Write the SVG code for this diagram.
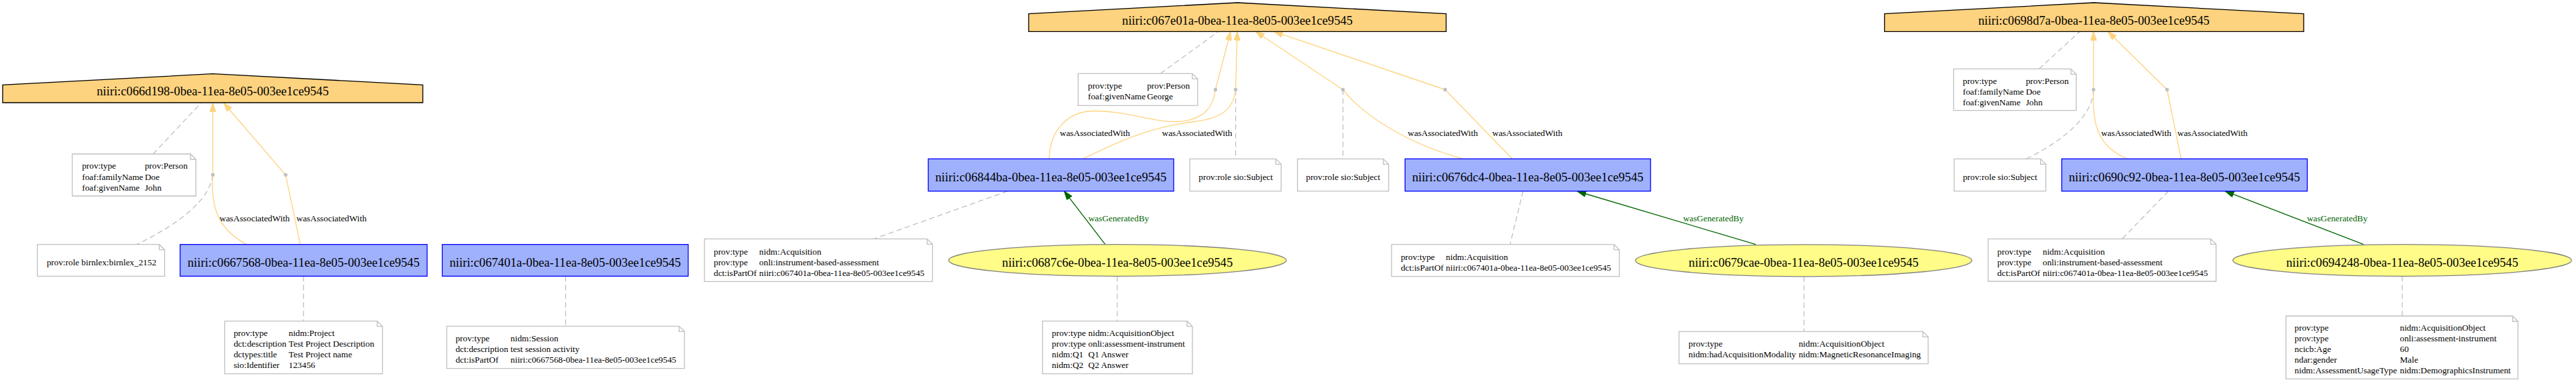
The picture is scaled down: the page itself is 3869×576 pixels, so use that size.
<svg xmlns="http://www.w3.org/2000/svg" width="3869" height="576" viewBox="0 0 3869 576">
<style>
.agent{fill:#fed37f;stroke:#000;stroke-width:1.33}
.act{fill:#9fb1fc;stroke:#0000ff;stroke-width:1.33}
.ent{fill:#fffc87;stroke:#808080;stroke-width:1.33}
.note{fill:#fff;stroke:#c0c0c0;stroke-width:1.33}
.fold{fill:none;stroke:#c0c0c0;stroke-width:1.33}
.nt{font-family:"Liberation Serif","Times New Roman",serif;font-size:18.67px;fill:#000;text-anchor:middle}
.at{font-family:"Liberation Serif","Times New Roman",serif;font-size:13.33px;fill:#000}
.mid{text-anchor:middle}
.gl{fill:#006400;text-anchor:middle}
.assoc{fill:none;stroke:#fed37f;stroke-width:1.33}
.gen{fill:none;stroke:#006400;stroke-width:1.33}
.dash{fill:none;stroke:#c0c0c0;stroke-width:1.33;stroke-dasharray:8,5}
.pt{fill:#c0c0c0}
</style>
<defs>
<marker id="ao" markerUnits="userSpaceOnUse" markerWidth="14" markerHeight="10" refX="13.3" refY="4.67" orient="auto"><path d="M0,0 L13.3,4.67 L0,9.33 Z" fill="#fed37f" stroke="#fed37f"/></marker>
<marker id="ag" markerUnits="userSpaceOnUse" markerWidth="14" markerHeight="10" refX="13.3" refY="4.67" orient="auto"><path d="M0,0 L13.3,4.67 L0,9.33 Z" fill="#006400" stroke="#006400"/></marker>
</defs>
<rect width="3869" height="576" fill="#fff"/>
<g id="connectors">
<line class="dash" x1="230" y1="231" x2="301.7" y2="154.7"/>
<path class="dash" d="M319.6,262.3 C315,300 270,335 205.4,366.7"/>
<line class="dash" x1="455.8" y1="414.3" x2="455.8" y2="481.7"/>
<line class="dash" x1="849.5" y1="414.3" x2="849.5" y2="489.3"/>
<line class="dash" x1="1743" y1="110.3" x2="1829" y2="48"/>
<line class="dash" x1="1855.8" y1="134.5" x2="1855.8" y2="238.3"/>
<line class="dash" x1="2017" y1="134.5" x2="2017" y2="238.3"/>
<line class="dash" x1="1513.4" y1="286.7" x2="1312.5" y2="358.3"/>
<line class="dash" x1="1678" y1="414.3" x2="1678" y2="481.7"/>
<line class="dash" x1="2287.5" y1="286.7" x2="2268" y2="366.7"/>
<line class="dash" x1="2709.5" y1="414.8" x2="2709.5" y2="497.3"/>
<line class="dash" x1="3062.5" y1="103.3" x2="3123.8" y2="47.3"/>
<path class="dash" d="M3144.3,134.5 C3143,175 3100,210 3043.4,238.3"/>
<line class="dash" x1="3256.8" y1="286.7" x2="3187.3" y2="358.3"/>
<line class="dash" x1="3608" y1="414.3" x2="3608" y2="474"/>

<path class="assoc" d="M319.6,262.3 L319.6,154.5" marker-end="url(#ao)"/>
<path class="assoc" d="M429,262.3 L336,154.5" marker-end="url(#ao)"/>
<path class="assoc" d="M370.5,366.7 C330,345 316,315 319.6,262.3"/>
<path class="assoc" d="M451,366.7 L429,262.3"/>
<text class="at mid" x="382.5" y="332">wasAssociatedWith</text>
<text class="at mid" x="498" y="332">wasAssociatedWith</text>

<path class="assoc" d="M1825.5,134.5 L1848.3,47.3" marker-end="url(#ao)"/>
<path class="assoc" d="M1855.8,134.5 L1858.3,47.3" marker-end="url(#ao)"/>
<path class="assoc" d="M2017,134.5 L1886,47.3" marker-end="url(#ao)"/>
<path class="assoc" d="M2170.5,134.5 L1913.3,47.3" marker-end="url(#ao)"/>
<path class="assoc" d="M1576,238.3 C1576,200 1600,166 1645,166.5 C1700,167 1730,185 1775,182 C1810,178 1822,160 1825.5,134.5"/>
<path class="assoc" d="M1626.7,238.3 C1680,212 1730,190 1790,183 C1835,178 1852,165 1855.8,134.5"/>
<text class="at mid" x="1644.5" y="204">wasAssociatedWith</text>
<text class="at mid" x="1798" y="204">wasAssociatedWith</text>
<path class="assoc" d="M2198.2,238.3 C2110,215 2045,170 2017,134.5"/>
<path class="assoc" d="M2271.4,238.3 L2170.5,134.5"/>
<text class="at mid" x="2167" y="204">wasAssociatedWith</text>
<text class="at mid" x="2294" y="204">wasAssociatedWith</text>

<path class="assoc" d="M3144.3,134.5 L3144.3,47.3" marker-end="url(#ao)"/>
<path class="assoc" d="M3254.8,134.5 L3166,47.3" marker-end="url(#ao)"/>
<path class="assoc" d="M3195.4,238.3 C3150,220 3142,185 3144.3,134.5"/>
<path class="assoc" d="M3275.9,238.3 L3254.8,134.5"/>
<text class="at mid" x="3208.4" y="204">wasAssociatedWith</text>
<text class="at mid" x="3323" y="204">wasAssociatedWith</text>

<path class="gen" d="M1660,366.7 L1598.3,286.7" marker-end="url(#ag)"/>
<path class="gen" d="M2637.1,366.7 L2369,287" marker-end="url(#ag)"/>
<path class="gen" d="M3550,366.7 L3342,286.7" marker-end="url(#ag)"/>
<text class="at gl" x="1680.2" y="332">wasGeneratedBy</text>
<text class="at gl" x="2573.4" y="332">wasGeneratedBy</text>
<text class="at gl" x="3510.4" y="332">wasGeneratedBy</text>

<circle class="pt" cx="319.6" cy="262.3" r="2.7"/>
<circle class="pt" cx="429" cy="262.3" r="2.7"/>
<circle class="pt" cx="1825.5" cy="134.5" r="2.7"/>
<circle class="pt" cx="1855.8" cy="134.5" r="2.7"/>
<circle class="pt" cx="2017" cy="134.5" r="2.7"/>
<circle class="pt" cx="2170.5" cy="134.5" r="2.7"/>
<circle class="pt" cx="3144.3" cy="134.5" r="2.7"/>
<circle class="pt" cx="3254.8" cy="134.5" r="2.7"/>
</g>

<g id="agent-c066d198">
<polygon class="agent" points="635,154 635,127.3 319.5,110.7 4,127.3 4,154"/>
<text class="nt" x="319.5" y="143.3">niiri:c066d198-0bea-11ea-8e05-003ee1ce9545</text>
</g>
<g id="agent-c067e01a">
<polygon class="agent" points="2172,47.3 2172,20.7 1858.5,4 1545,20.7 1545,47.3"/>
<text class="nt" x="1858.5" y="36.7">niiri:c067e01a-0bea-11ea-8e05-003ee1ce9545</text>
</g>
<g id="agent-c0698d7a">
<polygon class="agent" points="3460,47.3 3460,20.7 3145,4 2830.5,20.7 2830.5,47.3"/>
<text class="nt" x="3145" y="36.7">niiri:c0698d7a-0bea-11ea-8e05-003ee1ce9545</text>
</g>

<g id="act-c0667568">
<rect class="act" x="270.5" y="366.7" width="371" height="47.6"/>
<text class="nt" x="456" y="400">niiri:c0667568-0bea-11ea-8e05-003ee1ce9545</text>
</g>
<g id="act-c067401a">
<rect class="act" x="664.3" y="366.7" width="369.3" height="47.6"/>
<text class="nt" x="849" y="400">niiri:c067401a-0bea-11ea-8e05-003ee1ce9545</text>
</g>
<g id="act-c06844ba">
<rect class="act" x="1394.2" y="238.3" width="368.6" height="48.4"/>
<text class="nt" x="1578.5" y="271.7">niiri:c06844ba-0bea-11ea-8e05-003ee1ce9545</text>
</g>
<g id="act-c0676dc4">
<rect class="act" x="2110.3" y="238.3" width="368.7" height="48.4"/>
<text class="nt" x="2294.6" y="271.7">niiri:c0676dc4-0bea-11ea-8e05-003ee1ce9545</text>
</g>
<g id="act-c0690c92">
<rect class="act" x="3096.6" y="238.3" width="368.8" height="48.4"/>
<text class="nt" x="3281" y="271.7">niiri:c0690c92-0bea-11ea-8e05-003ee1ce9545</text>
</g>

<g id="ent-c0687c6e">
<ellipse class="ent" cx="1678.3" cy="390.5" rx="253.5" ry="23.8"/>
<text class="nt" x="1678.3" y="399.5">niiri:c0687c6e-0bea-11ea-8e05-003ee1ce9545</text>
</g>
<g id="ent-c0679cae">
<ellipse class="ent" cx="2709" cy="390.8" rx="252.6" ry="24"/>
<text class="nt" x="2709" y="399.5">niiri:c0679cae-0bea-11ea-8e05-003ee1ce9545</text>
</g>
<g id="ent-c0694248">
<ellipse class="ent" cx="3608" cy="390.5" rx="254.3" ry="23.8"/>
<text class="nt" x="3608" y="399.5">niiri:c0694248-0bea-11ea-8e05-003ee1ce9545</text>
</g>

<g id="note-agentL">
<path class="note" d="M108.5,231 L286.2,231 L294.2,239 L294.2,294 L108.5,294 Z"/>
<path class="fold" d="M286.2,231 L286.2,239 L294.2,239"/>
<text class="at" x="123.2" y="253">prov:type</text><text class="at" x="217.4" y="253">prov:Person</text>
<text class="at" x="123.2" y="269.5">foaf:familyName</text><text class="at" x="217.4" y="269.5">Doe</text>
<text class="at" x="123.2" y="286">foaf:givenName</text><text class="at" x="217.4" y="286">John</text>
</g>
<g id="note-roleL">
<path class="note" d="M56.2,366.7 L239.3,366.7 L247.3,374.7 L247.3,414.3 L56.2,414.3 Z"/>
<path class="fold" d="M239.3,366.7 L239.3,374.7 L247.3,374.7"/>
<text class="at mid" x="152.5" y="397.5">prov:role birnlex:birnlex_2152</text>
</g>
<g id="note-project">
<path class="note" d="M337.5,481.7 L566.5,481.7 L574.5,489.7 L574.5,560.7 L337.5,560.7 Z"/>
<path class="fold" d="M566.5,481.7 L566.5,489.7 L574.5,489.7"/>
<text class="at" x="350.9" y="504">prov:type</text><text class="at" x="433.5" y="504">nidm:Project</text>
<text class="at" x="350.9" y="520">dct:description</text><text class="at" x="433.5" y="520">Test Project Description</text>
<text class="at" x="350.9" y="536">dctypes:title</text><text class="at" x="433.5" y="536">Test Project name</text>
<text class="at" x="350.9" y="552">sio:Identifier</text><text class="at" x="433.5" y="552">123456</text>
</g>
<g id="note-session">
<path class="note" d="M670.9,489.3 L1020,489.3 L1028,497.3 L1028,552.7 L670.9,552.7 Z"/>
<path class="fold" d="M1020,489.3 L1020,497.3 L1028,497.3"/>
<text class="at" x="684.2" y="512">prov:type</text><text class="at" x="766.8" y="512">nidm:Session</text>
<text class="at" x="684.2" y="528">dct:description</text><text class="at" x="766.8" y="528">test session activity</text>
<text class="at" x="684.2" y="544">dct:isPartOf</text><text class="at" x="766.8" y="544">niiri:c0667568-0bea-11ea-8e05-003ee1ce9545</text>
</g>
<g id="note-george">
<path class="note" d="M1619.3,110.3 L1790.8,110.3 L1798.8,118.3 L1798.8,158.3 L1619.3,158.3 Z"/>
<path class="fold" d="M1790.8,110.3 L1790.8,118.3 L1798.8,118.3"/>
<text class="at" x="1634" y="133.3">prov:type</text><text class="at" x="1722.7" y="133.3">prov:Person</text>
<text class="at" x="1634" y="149.3">foaf:givenName</text><text class="at" x="1722.7" y="149.3">George</text>
</g>
<g id="note-role1">
<path class="note" d="M1787,238.3 L1916.2,238.3 L1924.2,246.3 L1924.2,286.7 L1787,286.7 Z"/>
<path class="fold" d="M1916.2,238.3 L1916.2,246.3 L1924.2,246.3"/>
<text class="at mid" x="1856" y="269.5">prov:role sio:Subject</text>
</g>
<g id="note-role2">
<path class="note" d="M1948.7,238.3 L2077.7,238.3 L2085.7,246.3 L2085.7,286.7 L1948.7,286.7 Z"/>
<path class="fold" d="M2077.7,238.3 L2077.7,246.3 L2085.7,246.3"/>
<text class="at mid" x="2017.2" y="269.5">prov:role sio:Subject</text>
</g>
<g id="note-acq1">
<path class="note" d="M1058,358.3 L1392.5,358.3 L1400.5,366.3 L1400.5,422.3 L1058,422.3 Z"/>
<path class="fold" d="M1392.5,358.3 L1392.5,366.3 L1400.5,366.3"/>
<text class="at" x="1072" y="381.5">prov:type</text><text class="at" x="1140.3" y="381.5">nidm:Acquisition</text>
<text class="at" x="1072" y="398">prov:type</text><text class="at" x="1140.3" y="398">onli:instrument-based-assessment</text>
<text class="at" x="1072" y="414">dct:isPartOf</text><text class="at" x="1140.3" y="414">niiri:c067401a-0bea-11ea-8e05-003ee1ce9545</text>
</g>
<g id="note-ao1">
<path class="note" d="M1565.7,481.7 L1782.9,481.7 L1790.9,489.7 L1790.9,560.7 L1565.7,560.7 Z"/>
<path class="fold" d="M1782.9,481.7 L1782.9,489.7 L1790.9,489.7"/>
<text class="at" x="1579.8" y="504">prov:type</text><text class="at" x="1634.6" y="504">nidm:AcquisitionObject</text>
<text class="at" x="1579.8" y="520">prov:type</text><text class="at" x="1634.6" y="520">onli:assessment-instrument</text>
<text class="at" x="1579.8" y="536">nidm:Q1</text><text class="at" x="1634.6" y="536">Q1 Answer</text>
<text class="at" x="1579.8" y="552">nidm:Q2</text><text class="at" x="1634.6" y="552">Q2 Answer</text>
</g>
<g id="note-acq2">
<path class="note" d="M2090.1,366.7 L2424.2,366.7 L2432.2,374.7 L2432.2,414.7 L2090.1,414.7 Z"/>
<path class="fold" d="M2424.2,366.7 L2424.2,374.7 L2432.2,374.7"/>
<text class="at" x="2103.9" y="389.5">prov:type</text><text class="at" x="2171.6" y="389.5">nidm:Acquisition</text>
<text class="at" x="2103.9" y="405.5">dct:isPartOf</text><text class="at" x="2171.6" y="405.5">niiri:c067401a-0bea-11ea-8e05-003ee1ce9545</text>
</g>
<g id="note-mri">
<path class="note" d="M2521.8,497.3 L2888,497.3 L2896,505.3 L2896,545.7 L2521.8,545.7 Z"/>
<path class="fold" d="M2888,497.3 L2888,505.3 L2896,505.3"/>
<text class="at" x="2536.1" y="520">prov:type</text><text class="at" x="2701.4" y="520">nidm:AcquisitionObject</text>
<text class="at" x="2536.1" y="536">nidm:hadAcquisitionModality</text><text class="at" x="2701.4" y="536">nidm:MagneticResonanceImaging</text>
</g>
<g id="note-personR">
<path class="note" d="M2934.3,103.3 L3110.4,103.3 L3118.4,111.3 L3118.4,165.7 L2934.3,165.7 Z"/>
<path class="fold" d="M3110.4,103.3 L3110.4,111.3 L3118.4,111.3"/>
<text class="at" x="2948" y="125.5">prov:type</text><text class="at" x="3042.7" y="125.5">prov:Person</text>
<text class="at" x="2948" y="142">foaf:familyName</text><text class="at" x="3042.7" y="142">Doe</text>
<text class="at" x="2948" y="158">foaf:givenName</text><text class="at" x="3042.7" y="158">John</text>
</g>
<g id="note-role3">
<path class="note" d="M2935,238.3 L3064.7,238.3 L3072.7,246.3 L3072.7,286.7 L2935,286.7 Z"/>
<path class="fold" d="M3064.7,238.3 L3064.7,246.3 L3072.7,246.3"/>
<text class="at mid" x="3003.9" y="269.5">prov:role sio:Subject</text>
</g>
<g id="note-acq3">
<path class="note" d="M2986.1,358.3 L3320.4,358.3 L3328.4,366.3 L3328.4,422 L2986.1,422 Z"/>
<path class="fold" d="M3320.4,358.3 L3320.4,366.3 L3328.4,366.3"/>
<text class="at" x="2999.8" y="381.5">prov:type</text><text class="at" x="3068" y="381.5">nidm:Acquisition</text>
<text class="at" x="2999.8" y="398">prov:type</text><text class="at" x="3068" y="398">onli:instrument-based-assessment</text>
<text class="at" x="2999.8" y="414">dct:isPartOf</text><text class="at" x="3068" y="414">niiri:c067401a-0bea-11ea-8e05-003ee1ce9545</text>
</g>
<g id="note-demo">
<path class="note" d="M3433.4,474 L3773.8,474 L3781.8,482 L3781.8,568.3 L3433.4,568.3 Z"/>
<path class="fold" d="M3773.8,474 L3773.8,482 L3781.8,482"/>
<text class="at" x="3446.3" y="496">prov:type</text><text class="at" x="3604.5" y="496">nidm:AcquisitionObject</text>
<text class="at" x="3446.3" y="512">prov:type</text><text class="at" x="3604.5" y="512">onli:assessment-instrument</text>
<text class="at" x="3446.3" y="528">ncicb:Age</text><text class="at" x="3604.5" y="528">60</text>
<text class="at" x="3446.3" y="544">ndar:gender</text><text class="at" x="3604.5" y="544">Male</text>
<text class="at" x="3446.3" y="560">nidm:AssessmentUsageType</text><text class="at" x="3604.5" y="560">nidm:DemographicsInstrument</text>
</g>
</svg>
